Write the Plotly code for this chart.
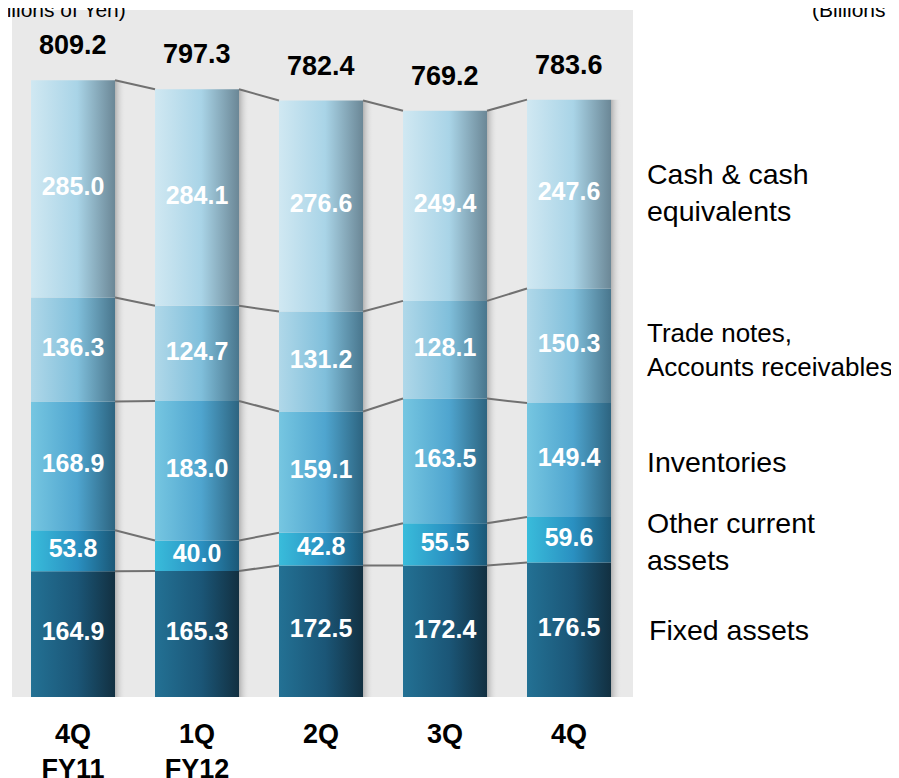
import plotly.graph_objects as go

# quarters on the x axis, totals printed above each stack
quarters = ['4Q<br>FY11', '1Q<br>FY12', '2Q', '3Q', '4Q']
totals = [809.2, 797.3, 782.4, 769.2, 783.6]

# stacked segments, bottom to top (billions of yen)
fixed_assets = [164.9, 165.3, 172.5, 172.4, 176.5]
other_current = [53.8, 40.0, 42.8, 55.5, 59.6]
inventories = [168.9, 183.0, 159.1, 163.5, 149.4]
trade_notes = [136.3, 124.7, 131.2, 128.1, 150.3]
cash = [285.0, 284.1, 276.6, 249.4, 247.6]

series_names = ['Fixed assets', 'Other current<br>assets', 'Inventories',
                'Trade notes,<br>Accounts receivables', 'Cash & cash<br>equivalents']

# left / middle / right colour of the cylinder shading per segment
gradients = [
    ['#237194', '#1b5677', '#123041'],
    ['#39bcdb', '#2a90c1', '#1b5877'],
    ['#76c6e1', '#4fa5cf', '#2d6480'],
    ['#b0d8e9', '#80bfdb', '#49768d'],
    ['#d0e8f2', '#a9d4e7', '#6b8796'],
]

FONT = 'Liberation Sans, Arial, sans-serif'
BAR_W = 84 / 124
SHADOW_W = 0.085

# the page body adds an 8px margin, so the figure is drawn 8px smaller
OFF = 8
FIG_W, FIG_H = 899 - OFF, 778 - OFF
BOTTOM = 81                      # pixels under the zero line
PLOT_H = FIG_H - BOTTOM


def px_x(vx):
    return (vx - OFF) / FIG_W


def px_y(vy):
    return (697 - vy) / PLOT_H


def stack_bases(columns):
    bases, tops = [], []
    running = [0.0] * len(columns[0])
    for col in columns:
        bases.append(list(running))
        running = [r + v for r, v in zip(running, col)]
        tops.append(list(running))
    return bases, tops


def add_box(fig, x0, x1, y0, y1, colorscale):
    fig.add_trace(go.Scatter(
        x=[x0, x1, x1, x0, x0], y=[y0, y0, y1, y1, y0],
        mode='lines', line=dict(width=0), fill='toself',
        fillgradient=dict(type='horizontal', colorscale=colorscale),
        hoverinfo='skip', showlegend=False))


columns = [fixed_assets, other_current, inventories, trade_notes, cash]
bases, tops = stack_bases(columns)
xs = list(range(len(quarters)))

fig = go.Figure()

# soft shadow on the right of every column
for i in xs:
    add_box(fig, i + BAR_W / 2, i + BAR_W / 2 + SHADOW_W, 0, tops[-1][i],
            [[0, 'rgba(110,110,110,0.45)'], [1, 'rgba(233,233,233,0)']])

# stacked segments
for s, col in enumerate(columns):
    c0, c1, c2 = gradients[s]
    for i in xs:
        add_box(fig, i - BAR_W / 2, i + BAR_W / 2, bases[s][i], tops[s][i],
                [[0, c0], [0.55, c1], [1, c2]])

# connector lines between neighbouring columns
for s in range(len(columns)):
    lx, ly = [], []
    for i in xs[:-1]:
        lx += [i + BAR_W / 2, i + 1 - BAR_W / 2, None]
        ly += [tops[s][i], tops[s][i + 1], None]
    fig.add_trace(go.Scatter(x=lx, y=ly, mode='lines',
                             line=dict(color='#717171', width=2),
                             hoverinfo='skip', showlegend=False))

# segment values
for s, col in enumerate(columns):
    fig.add_trace(go.Scatter(
        x=xs, y=[b + v / 2 for b, v in zip(bases[s], col)],
        mode='text', text=[f'{v:.1f}' for v in col],
        textfont=dict(family=FONT, size=25, color='white', weight='bold'),
        hoverinfo='skip', showlegend=False))

# totals above the stacks
for i in xs:
    fig.add_annotation(x=i, y=tops[-1][i], text=f'{totals[i]:.1f}',
                       showarrow=False, yanchor='middle', yshift=35,
                       font=dict(family=FONT, size=27, color='black', weight='bold'))

# series names on the right
label_pos = [(647, 630, 28.5), (645, 541, 28.5), (645, 462, 28.5),
             (645, 350, 26), (645, 193, 28.5)]
for name, (vx, vy, fs) in zip(series_names, label_pos):
    fig.add_annotation(xref='paper', yref='paper', x=px_x(vx), y=px_y(vy),
                       xanchor='left', yanchor='middle', align='left',
                       text=name, showarrow=False,
                       font=dict(family=FONT, size=fs, color='black'))

# unit notes, cut by the top edge as in the source slide
for vx, anchor in [(128, 'right'), (810, 'left')]:
    fig.add_annotation(xref='paper', yref='paper', x=px_x(vx), y=px_y(0), yshift=-9,
                       xanchor=anchor, yanchor='middle', text='(Billions of Yen)',
                       showarrow=False, font=dict(family=FONT, size=21, color='black'))

# grey panel behind the columns and the thin edge on the far right
fig.add_shape(type='rect', xref='paper', yref='paper', layer='below',
              x0=px_x(12), x1=px_x(633), y0=0, y1=px_y(10),
              fillcolor='#e9e9e9', line=dict(width=0))
fig.add_shape(type='line', xref='paper', yref='paper', layer='below',
              x0=px_x(896), x1=px_x(896), y0=px_y(20), y1=px_y(708),
              line=dict(color='#e2e2e2', width=3))

x_lo = -(73 - OFF) / 124
fig.update_layout(
    width=FIG_W, height=FIG_H,
    margin=dict(l=0, r=0, t=0, b=BOTTOM),
    paper_bgcolor='white', plot_bgcolor='white',
    showlegend=False,
    xaxis=dict(range=[x_lo, x_lo + FIG_W / 124], tickvals=xs, ticktext=quarters,
               showgrid=False, zeroline=False, showline=False, ticks='',
               automargin=False, ticklabelstandoff=18,
               tickfont=dict(family=FONT, size=27, color='black', weight='bold')),
    yaxis=dict(range=[0, (697 - OFF) / 0.7625], visible=False, showgrid=False,
               automargin=False),
)

fig.write_html('out.html')
